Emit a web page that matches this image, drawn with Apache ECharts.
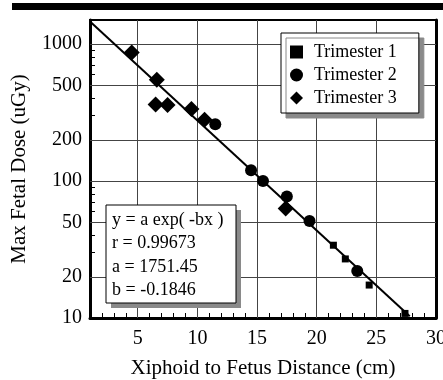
<!DOCTYPE html>
<html>
<head>
<meta charset="utf-8">
<script src="https://cdn.jsdelivr.net/npm/echarts@6/dist/echarts.min.js"></script>
<style>
html,body{margin:0;padding:0;background:#fff;}
#c{width:443px;height:380px;}
</style>
</head>
<body>
<div id="c"></div>
<script>
// ---- data ----
const tri1X = [21.4, 22.4, 24.4, 27.4];
const tri1Y = [34, 27, 17.4, 10.8];
const tri2X = [11.5, 14.5, 15.5, 17.5, 19.4, 23.4];
const tri2Y = [260, 120, 100, 77, 51, 22];
const tri3X = [4.5, 6.6, 6.5, 7.5, 9.5, 10.6, 17.4];
const tri3Y = [870, 550, 363, 360, 336, 280, 63];
const fitX = [1, 27.8];
const fitY = [1460, 10.3];
const seriesNames = ['Trimester 1', 'Trimester 2', 'Trimester 3'];
const xTickLabels = [5, 10, 15, 20, 25, 30];
const xMinorTicks = [2,3,4,5,6,7,8,9,10,11,12,13,14,15,16,17,18,19,20,21,22,23,24,25,26,27,28,29];
const yTickLabels = [10, 20, 50, 100, 200, 500, 1000];
const yMinorTicks = [10,20,30,40,50,60,70,80,90,100,200,300,400,500,600,700,800,900,1000];
const xGrid = [5, 10, 15, 20, 25];
const yGrid = [20, 50, 100, 200, 500, 1000];
const eqLines = ['y = a exp( -bx )', 'r = 0.99673', 'a = 1751.45', 'b = -0.1846'];
const xTitle = 'Xiphoid to Fetus Distance (cm)';
const yTitle = 'Max Fetal Dose (uGy)';

const zip = (xs, ys) => xs.map((x, i) => [x, ys[i]]);
const FONT = '"Liberation Serif", "DejaVu Serif", serif';

const GRID = {left: 90, right: 7, top: 20, bottom: 62};
const plotW = 443 - GRID.left - GRID.right;
const plotH = 380 - GRID.top - GRID.bottom;

const chart = echarts.init(document.getElementById('c'), null, {renderer: 'canvas'});

const eqGraphics = [
  {type: 'rect', shape: {x: 111, y: 210, width: 130, height: 98}, style: {fill: '#8a8a8a'}, z: 50},
  {type: 'rect', shape: {x: 106, y: 205, width: 130, height: 98}, style: {fill: '#fff', stroke: '#000', lineWidth: 1}, z: 51}
].concat(eqLines.map((t, i) => ({
  type: 'text', x: 112, y: 220 + i * 23.5, z: 52,
  style: {text: t, font: '18px ' + FONT, fill: '#000', textVerticalAlign: 'middle', verticalAlign: 'middle'}
})));

chart.setOption({
  animation: false,
  backgroundColor: '#fff',
  textStyle: {fontFamily: FONT},
  grid: Object.assign({show: true, borderColor: '#000', borderWidth: 2, containLabel: false, outerBoundsMode: 'none'}, GRID),
  legend: {
    data: seriesNames,
    orient: 'vertical',
    left: 281, top: 33,
    padding: [9, 22, 5, 9],
    itemGap: 3,
    itemWidth: 13, itemHeight: 13,
    backgroundColor: '#fff',
    borderColor: '#000', borderWidth: 1,
    shadowColor: '#8a8a8a', shadowBlur: 0, shadowOffsetX: 5, shadowOffsetY: 5,
    textStyle: {fontFamily: FONT, fontSize: 18, color: '#000', lineHeight: 20, padding: [0, 0, 0, 6]},
    itemStyle: {color: '#000', opacity: 1}
  },
  xAxis: [{
    type: 'value', min: 1, max: 30,
    axisLine: {show: true, lineStyle: {color: '#000', width: 3}},
    axisTick: {show: true, inside: true, length: 5, customValues: xMinorTicks, lineStyle: {color: '#000', width: 1}},
    axisLabel: {customValues: xTickLabels, fontFamily: FONT, fontSize: 20, color: '#000', margin: 11},
    splitLine: {show: false},
    name: xTitle, nameLocation: 'middle', nameGap: 40,
    nameTextStyle: {fontFamily: FONT, fontSize: 21, color: '#000'}
  }, {
    // vertical grid lines drawn as full-height ticks
    type: 'value', min: 1, max: 30, position: 'top',
    axisLine: {show: false},
    axisTick: {show: true, inside: true, length: plotH, customValues: xGrid, lineStyle: {color: '#444', width: 1}},
    axisLabel: {show: false},
    splitLine: {show: false}
  }],
  yAxis: [{
    type: 'log', logBase: 10, min: 10, max: 1500,
    axisLine: {show: true, lineStyle: {color: '#000', width: 3}},
    axisTick: {show: true, inside: true, length: 5, customValues: yMinorTicks, lineStyle: {color: '#000', width: 1}},
    axisLabel: {customValues: yTickLabels, fontFamily: FONT, fontSize: 20, color: '#000', margin: 8,
      formatter: v => String(Math.round(v))},
    splitLine: {show: false},
    name: yTitle, nameLocation: 'middle', nameGap: 60,
    nameTextStyle: {fontFamily: FONT, fontSize: 21, color: '#000'}
  }, {
    // horizontal grid lines drawn as full-width ticks, and the thick right frame
    type: 'log', logBase: 10, min: 10, max: 1500, position: 'right',
    axisLine: {show: true, lineStyle: {color: '#000', width: 3}},
    axisTick: {show: true, inside: true, length: plotW, customValues: yGrid, lineStyle: {color: '#444', width: 1}},
    axisLabel: {show: false},
    splitLine: {show: false}
  }],
  series: [
    {
      type: 'line', name: 'fit', data: zip(fitX, fitY), symbol: 'none',
      lineStyle: {color: '#000', width: 2}, z: 3, silent: true
    },
    {type: 'scatter', name: seriesNames[0], data: zip(tri1X, tri1Y), symbol: 'rect', symbolSize: 7, itemStyle: {color: '#000', opacity: 1}, z: 5},
    {type: 'scatter', name: seriesNames[1], data: zip(tri2X, tri2Y), symbol: 'circle', symbolSize: 12, itemStyle: {color: '#000', opacity: 1}, z: 5},
    {type: 'scatter', name: seriesNames[2], data: zip(tri3X, tri3Y), symbol: 'diamond', symbolSize: 16, itemStyle: {color: '#000', opacity: 1}, z: 5}
  ],
  graphic: [
    {type: 'rect', shape: {x: 12, y: 3, width: 431, height: 7}, style: {fill: '#000'}, z: 60}
  ].concat(eqGraphics)
});
</script>
</body>
</html>
